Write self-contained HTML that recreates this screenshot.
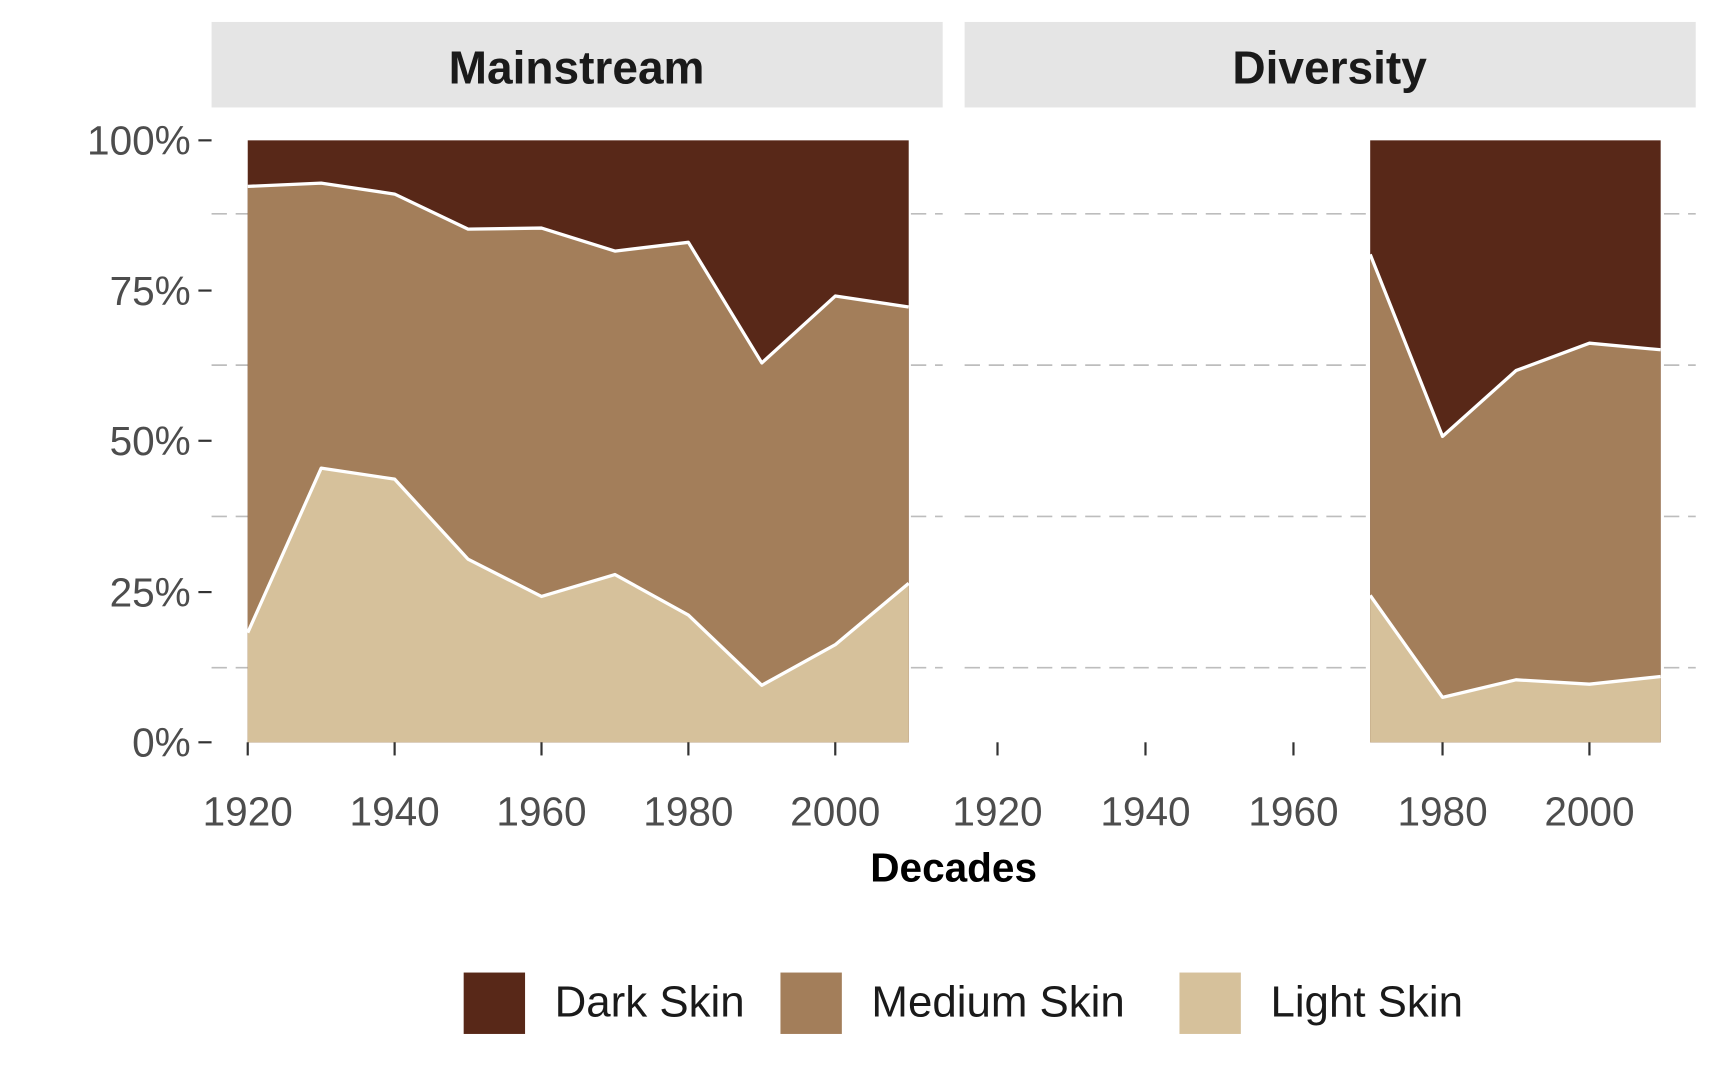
<!DOCTYPE html>
<html><head><meta charset="utf-8"><style>
html,body{margin:0;padding:0;background:#fff;}
svg{display:block;}
text{font-family:"Liberation Sans",sans-serif;}
</style></head><body>
<svg width="1710" height="1080" viewBox="0 0 1560 985" preserveAspectRatio="none" xmlns="http://www.w3.org/2000/svg">
<rect width="1560" height="985" fill="#fff"/>
<rect x="193" y="20" width="667" height="78" fill="#e5e5e5"/>
<rect x="880" y="20" width="667" height="78" fill="#e5e5e5"/>
<text x="526" y="76" font-size="42" font-weight="bold" text-anchor="middle" fill="#1a1a1a">Mainstream</text>
<text x="1213" y="76" font-size="42" font-weight="bold" text-anchor="middle" fill="#1a1a1a">Diversity</text>
<g stroke="#bdbdbd" stroke-width="1.5" stroke-dasharray="14,8">
<line x1="193" x2="860" y1="195" y2="195"/><line x1="193" x2="860" y1="333" y2="333"/>
<line x1="193" x2="860" y1="471" y2="471"/><line x1="193" x2="860" y1="609" y2="609"/>
<line x1="880" x2="1547" y1="195" y2="195"/><line x1="880" x2="1547" y1="333" y2="333"/>
<line x1="880" x2="1547" y1="471" y2="471"/><line x1="880" x2="1547" y1="609" y2="609"/>
</g>
<rect x="226" y="128" width="603" height="549" fill="#582818"/>
<polygon fill="#a37e5a" points="226,677 226,170 293,167 360,177 427,209 494,208 561,229 628,221 695,331 762,270 829,280 829,677"/>
<polygon fill="#d6c19b" points="226,677 226,577 293,427 360,437 427,510 494,544 561,524 628,561 695,625 762,588 829,532 829,677"/>
<g fill="none" stroke="#fff" stroke-width="3" stroke-linejoin="round">
<polyline points="226,170 293,167 360,177 427,209 494,208 561,229 628,221 695,331 762,270 829,280"/>
<polyline points="226,577 293,427 360,437 427,510 494,544 561,524 628,561 695,625 762,588 829,532"/>
</g>
<rect x="1250" y="128" width="265" height="549" fill="#582818"/>
<polygon fill="#a37e5a" points="1250,677 1250,232 1316,398 1383,338 1450,313 1515,319 1515,677"/>
<polygon fill="#d6c19b" points="1250,677 1250,543 1316,636 1383,620 1450,624 1515,617 1515,677"/>
<g fill="none" stroke="#fff" stroke-width="3" stroke-linejoin="round">
<polyline points="1250,232 1316,398 1383,338 1450,313 1515,319"/>
<polyline points="1250,543 1316,636 1383,620 1450,624 1515,617"/>
</g>
<g stroke="#333" stroke-width="2">
<line x1="181" x2="193" y1="128" y2="128"/><line x1="181" x2="193" y1="265" y2="265"/>
<line x1="181" x2="193" y1="402" y2="402"/><line x1="181" x2="193" y1="540" y2="540"/>
<line x1="181" x2="193" y1="677" y2="677"/>
</g>
<g font-size="37" fill="#4d4d4d" text-anchor="end">
<text x="174" y="141">100%</text><text x="174" y="278">75%</text>
<text x="174" y="415">50%</text><text x="174" y="553">25%</text><text x="174" y="690">0%</text>
</g>
<g stroke="#333" stroke-width="2">
<line x1="226" x2="226" y1="677" y2="689"/><line x1="360" x2="360" y1="677" y2="689"/>
<line x1="494" x2="494" y1="677" y2="689"/><line x1="628" x2="628" y1="677" y2="689"/>
<line x1="762" x2="762" y1="677" y2="689"/>
<line x1="910" x2="910" y1="677" y2="689"/><line x1="1045" x2="1045" y1="677" y2="689"/>
<line x1="1180" x2="1180" y1="677" y2="689"/><line x1="1316" x2="1316" y1="677" y2="689"/>
<line x1="1450" x2="1450" y1="677" y2="689"/>
</g>
<g font-size="37" fill="#4d4d4d" text-anchor="middle">
<text x="226" y="753">1920</text><text x="360" y="753">1940</text><text x="494" y="753">1960</text>
<text x="628" y="753">1980</text><text x="762" y="753">2000</text>
<text x="910" y="753">1920</text><text x="1045" y="753">1940</text><text x="1180" y="753">1960</text>
<text x="1316" y="753">1980</text><text x="1450" y="753">2000</text>
</g>
<text x="870" y="804" font-size="37" font-weight="bold" text-anchor="middle" fill="#000">Decades</text>
<rect x="423" y="887" width="56" height="56" fill="#582818"/>
<text x="506" y="927" font-size="40" fill="#1a1a1a">Dark Skin</text>
<rect x="712" y="887" width="56" height="56" fill="#a37e5a"/>
<text x="795" y="927" font-size="40" fill="#1a1a1a">Medium Skin</text>
<rect x="1076" y="887" width="56" height="56" fill="#d6c19b"/>
<text x="1159" y="927" font-size="40" fill="#1a1a1a">Light Skin</text>
</svg>
</body></html>
